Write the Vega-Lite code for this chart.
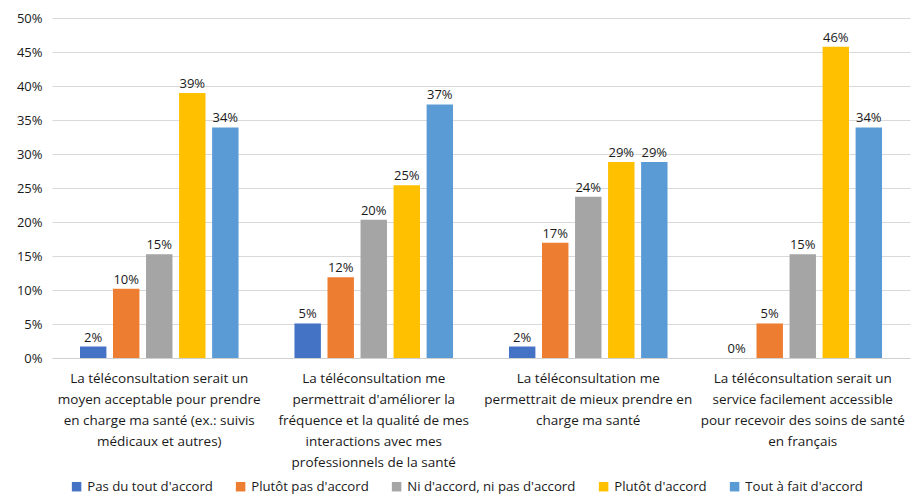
{
  "$schema": "https://vega.github.io/schema/vega-lite/v6.json",
  "width": 858,
  "height": 340,
  "autosize": {"type": "none"},
  "padding": {"left": 52, "top": 18, "right": 3, "bottom": 139},
  "background": "white",
  "data": {
    "values": [
      {"q": "La téléconsultation serait un|moyen acceptable pour prendre|en charge ma santé (ex.: suivis|médicaux et autres)", "r": "Pas du tout d'accord", "v": 0.0169},
      {"q": "La téléconsultation serait un|moyen acceptable pour prendre|en charge ma santé (ex.: suivis|médicaux et autres)", "r": "Plutôt pas d'accord", "v": 0.1017},
      {"q": "La téléconsultation serait un|moyen acceptable pour prendre|en charge ma santé (ex.: suivis|médicaux et autres)", "r": "Ni d'accord, ni pas d'accord", "v": 0.1525},
      {"q": "La téléconsultation serait un|moyen acceptable pour prendre|en charge ma santé (ex.: suivis|médicaux et autres)", "r": "Plutôt d'accord", "v": 0.3898},
      {"q": "La téléconsultation serait un|moyen acceptable pour prendre|en charge ma santé (ex.: suivis|médicaux et autres)", "r": "Tout à fait d'accord", "v": 0.339},
      {"q": "La téléconsultation me|permettrait d'améliorer la|fréquence et la qualité de mes|interactions avec mes|professionnels de la santé", "r": "Pas du tout d'accord", "v": 0.0508},
      {"q": "La téléconsultation me|permettrait d'améliorer la|fréquence et la qualité de mes|interactions avec mes|professionnels de la santé", "r": "Plutôt pas d'accord", "v": 0.1186},
      {"q": "La téléconsultation me|permettrait d'améliorer la|fréquence et la qualité de mes|interactions avec mes|professionnels de la santé", "r": "Ni d'accord, ni pas d'accord", "v": 0.2034},
      {"q": "La téléconsultation me|permettrait d'améliorer la|fréquence et la qualité de mes|interactions avec mes|professionnels de la santé", "r": "Plutôt d'accord", "v": 0.2542},
      {"q": "La téléconsultation me|permettrait d'améliorer la|fréquence et la qualité de mes|interactions avec mes|professionnels de la santé", "r": "Tout à fait d'accord", "v": 0.3729},
      {"q": "La téléconsultation me|permettrait de mieux prendre en|charge ma santé", "r": "Pas du tout d'accord", "v": 0.0169},
      {"q": "La téléconsultation me|permettrait de mieux prendre en|charge ma santé", "r": "Plutôt pas d'accord", "v": 0.1695},
      {"q": "La téléconsultation me|permettrait de mieux prendre en|charge ma santé", "r": "Ni d'accord, ni pas d'accord", "v": 0.2373},
      {"q": "La téléconsultation me|permettrait de mieux prendre en|charge ma santé", "r": "Plutôt d'accord", "v": 0.2881},
      {"q": "La téléconsultation me|permettrait de mieux prendre en|charge ma santé", "r": "Tout à fait d'accord", "v": 0.2881},
      {"q": "La téléconsultation serait un|service facilement accessible|pour recevoir des soins de santé|en français", "r": "Pas du tout d'accord", "v": 0.0},
      {"q": "La téléconsultation serait un|service facilement accessible|pour recevoir des soins de santé|en français", "r": "Plutôt pas d'accord", "v": 0.0508},
      {"q": "La téléconsultation serait un|service facilement accessible|pour recevoir des soins de santé|en français", "r": "Ni d'accord, ni pas d'accord", "v": 0.1525},
      {"q": "La téléconsultation serait un|service facilement accessible|pour recevoir des soins de santé|en français", "r": "Plutôt d'accord", "v": 0.4576},
      {"q": "La téléconsultation serait un|service facilement accessible|pour recevoir des soins de santé|en français", "r": "Tout à fait d'accord", "v": 0.339}
    ]
  },
  "encoding": {
    "x": {
      "field": "q",
      "type": "nominal",
      "sort": null,
      "title": null,
      "scale": {"paddingInner": 0.23, "paddingOuter": 0.115},
      "axis": {
        "labelAngle": 0,
        "labelExpr": "split(datum.label, '|')",
        "labelFont": "Open Sans",
        "labelFontSize": 13.5,
        "labelColor": "#1a1a1a",
        "labelLineHeight": 21,
        "labelLimit": 300,
        "labelPadding": 13,
        "ticks": false,
        "domainColor": "#d0d0d0",
        "grid": false
      }
    },
    "xOffset": {
      "field": "r",
      "type": "nominal",
      "sort": ["Pas du tout d'accord", "Plutôt pas d'accord", "Ni d'accord, ni pas d'accord", "Plutôt d'accord", "Tout à fait d'accord"],
      "scale": {"paddingInner": 0.2, "paddingOuter": 0.1}
    },
    "y": {
      "field": "v",
      "type": "quantitative",
      "title": null,
      "scale": {"domain": [0, 0.5]},
      "axis": {
        "values": [0, 0.05, 0.1, 0.15, 0.2, 0.25, 0.3, 0.35, 0.4, 0.45, 0.5],
        "format": ".0%",
        "labelFont": "Open Sans",
        "labelFontSize": 13,
        "labelColor": "#1a1a1a",
        "labelPadding": 10,
        "ticks": false,
        "domain": false,
        "gridColor": "#d9d9d9",
        "gridWidth": 1
      }
    }
  },
  "layer": [
    {
      "mark": {"type": "bar"},
      "encoding": {
        "color": {
          "field": "r",
          "type": "nominal",
          "sort": ["Pas du tout d'accord", "Plutôt pas d'accord", "Ni d'accord, ni pas d'accord", "Plutôt d'accord", "Tout à fait d'accord"],
          "scale": {
            "domain": ["Pas du tout d'accord", "Plutôt pas d'accord", "Ni d'accord, ni pas d'accord", "Plutôt d'accord", "Tout à fait d'accord"],
            "range": ["#4472C4", "#ED7D31", "#A5A5A5", "#FFC000", "#5B9BD5"]
          },
          "legend": {
            "title": null,
            "orient": "none",
            "legendX": 18,
            "legendY": 462,
            "direction": "horizontal",
            "columns": 5,
            "symbolType": "square",
            "symbolSize": 90,
            "symbolStrokeWidth": 0,
            "labelFont": "Open Sans",
            "labelFontSize": 13.2,
            "labelColor": "#1a1a1a",
            "labelLimit": 300,
            "columnPadding": 21,
            "labelOffset": 4
          }
        }
      }
    },
    {
      "mark": {"type": "text", "dy": -9, "font": "Open Sans", "fontSize": 13, "fontWeight": 500, "color": "#1a1a1a"},
      "encoding": {
        "text": {"field": "v", "type": "quantitative", "format": ".0%"}
      }
    }
  ],
  "config": {"view": {"stroke": null}}
}
